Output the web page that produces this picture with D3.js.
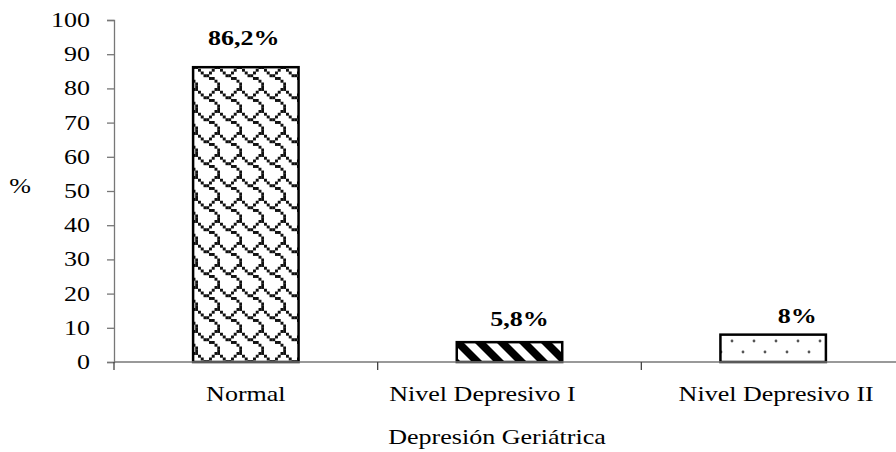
<!DOCTYPE html>
<html><head><meta charset="utf-8">
<script src="https://cdn.jsdelivr.net/npm/d3@7"></script>
<style>html,body{margin:0;padding:0;background:#fff}</style>
</head><body>
<svg id="c" width="896" height="452"></svg>
<script>
const categories = ["Normal", "Nivel Depresivo I", "Nivel Depresivo II"];
const values = [86.2, 5.8, 8];
const valueLabels = ["86,2%", "5,8%", "8%"];
const yTicks = [0,10,20,30,40,50,60,70,80,90,100];
const yTitle = "%";
const xTitle = "Depresión Geriátrica";
const patterns = ["shingle", "wdiag", "dots"];

// layout nudges (hand-placed text in the original chart)
const catLabelNudge = [0, -27, 3];
const valLabelNudge = [-2, 10, 24];
const valLabelGap = [22, 16, 12];

const svg = d3.select("#c");
const SX = 1.24, FS = 21, FONT = "'Liberation Serif','Times New Roman',serif";
const defs = svg.append("defs");

// shingle pattern (8x8 bitmap)
const shingle = [
  "......XX",
  "X....X..",
  ".X..X...",
  "..XX....",
  "....XX..",
  "......X.",
  ".......X",
  ".......X"];
const cw = 22/8;
const p1 = defs.append("pattern").attr("id","shingle").attr("patternUnits","userSpaceOnUse")
  .attr("width",22).attr("height",22);
p1.append("rect").attr("width",22).attr("height",22).attr("fill","#fff");
shingle.forEach((row,r)=>row.split("").forEach((ch,c)=>{
  if(ch==="X") p1.append("rect").attr("x",c*cw).attr("y",r*cw).attr("width",cw+0.2).attr("height",cw+0.2).attr("fill","#111");
}));

const p2 = defs.append("pattern").attr("id","wdiag").attr("patternUnits","userSpaceOnUse")
  .attr("width",22).attr("height",22);
p2.append("rect").attr("width",22).attr("height",22).attr("fill","#fff");
p2.append("polygon").attr("points","0,0 11,0 22,11 22,22").attr("fill","#000");
p2.append("polygon").attr("points","0,11 11,22 0,22").attr("fill","#000");

const p3 = defs.append("pattern").attr("id","dots").attr("patternUnits","userSpaceOnUse")
  .attr("width",22).attr("height",22);
p3.append("rect").attr("width",22).attr("height",22).attr("fill","#fff");
p3.append("circle").attr("cx",6).attr("cy",11).attr("r",1.4).attr("fill","#555");
p3.append("circle").attr("cx",17).attr("cy",0).attr("r",1.4).attr("fill","#555");
p3.append("circle").attr("cx",17).attr("cy",22).attr("r",1.4).attr("fill","#555");

const x = d3.scaleBand().domain(categories).range([114, 905]).paddingInner(0.6).paddingOuter(0.3);
const y = d3.scaleLinear().domain([0,100]).range([362, 20]);
const step = x.step();

function txt(g, xx, yy, s, anchor, bold){
  return g.append("text").attr("transform",`translate(${xx},${yy}) scale(${SX},1)`)
    .attr("text-anchor",anchor).attr("font-family",FONT).attr("font-size",FS)
    .attr("font-weight",bold?"bold":"normal").attr("fill","#000").text(s);
}

// y axis
const yAxis = svg.append("g").attr("transform","translate(114,0)")
  .call(d3.axisLeft(y).tickValues(yTicks).tickSizeInner(7).tickSizeOuter(7).tickFormat(""));
yAxis.selectAll("path,line").attr("stroke","#777").attr("stroke-width",1.3);
yTicks.forEach(t=>txt(svg, 90, y(t)+7, String(t), "end", false));

// bars
svg.selectAll("rect.bar").data(categories).join("rect").attr("class","bar")
  .attr("x",d=>x(d)).attr("width",x.bandwidth())
  .attr("y",(d,i)=>y(values[i])).attr("height",(d,i)=>y(0)-y(values[i]))
  .attr("fill",(d,i)=>`url(#${patterns[i]})`).attr("stroke","#000").attr("stroke-width",2.5);

// x axis
svg.append("line").attr("x1",114).attr("x2",896).attr("y1",y(0)).attr("y2",y(0)).attr("stroke","#777").attr("stroke-width",1.3);
categories.forEach((c,i)=>{
  const tx = x(c) - step*0.3;
  svg.append("line").attr("x1",tx).attr("x2",tx).attr("y1",y(0)).attr("y2",y(0)+8).attr("stroke","#444").attr("stroke-width",1.3);
  txt(svg, x(c)+x.bandwidth()/2 + catLabelNudge[i], 401, c, "middle", false);
  txt(svg, x(c)+x.bandwidth()/2 + valLabelNudge[i], y(values[i])-valLabelGap[i], valueLabels[i], "middle", true);
});

txt(svg, 20, 193, yTitle, "middle", false);
txt(svg, 497, 444, xTitle, "middle", false);
</script>
</body></html>
